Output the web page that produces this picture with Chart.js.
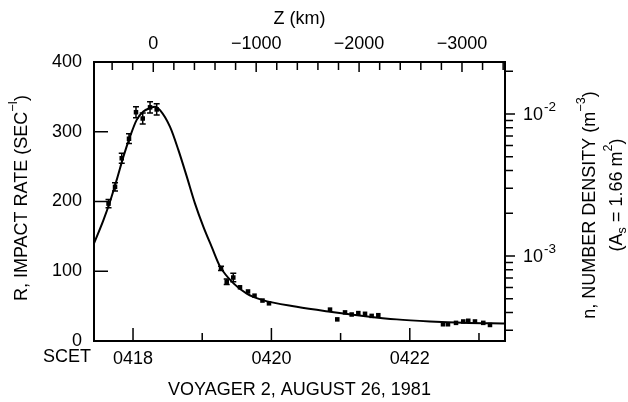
<!DOCTYPE html>
<html>
<head>
<meta charset="utf-8">
<script src="https://cdn.jsdelivr.net/npm/chart.js@4"></script>
<style>
body { margin: 0; background: #fff; }
</style>
</head>
<body>
<canvas id="chart" width="628" height="402"></canvas>
<script>
// measured impact rates, time in minutes after 04:00 SCET
const timeMin = [17.646, 17.740, 17.837, 17.942, 18.043, 18.140, 18.246, 18.342,
    19.272, 19.354, 19.449, 19.546, 19.662, 19.756, 19.871, 19.965,
    20.847, 20.952, 21.064, 21.160, 21.256, 21.353, 21.449, 21.545,
    22.480, 22.552, 22.668, 22.773, 22.845, 22.942, 23.062, 23.159];
const rate = [197, 221, 262, 290, 328, 319, 335, 332,
    104, 85, 91, 77, 71, 65, 58, 54,
    45, 31, 41, 38, 40, 39, 36, 37,
    24, 24, 26, 28, 29, 28, 26, 23];
const rateErr = [6, 6, 7, 7, 8, 8, 8, 8,
    3, 4, 6, 0, 0, 0, 0, 0,
    0, 0, 0, 0, 0, 0, 0, 0,
    0, 0, 0, 0, 0, 0, 0, 0];

// model curve
const fitTime = [17.436, 17.571, 17.668, 17.764, 17.860, 17.957, 18.053, 18.149, 18.246, 18.318,
    18.390, 18.535, 18.655, 18.776, 18.896, 19.016, 19.137, 19.257, 19.449, 19.643,
    19.864, 20.366, 20.847, 21.328, 21.811, 22.292, 22.773, 23.376];
const fitRate = [140, 173, 200, 231, 264, 293, 317, 329, 334, 336,
    331, 307, 274, 236, 197, 164, 135, 107, 83, 68,
    59, 49, 42, 36, 31, 28, 26, 25];

// axes
const timeTicks = [18, 19, 20, 21, 22, 23];
const timeLabels = ['0418', '', '0420', '', '0422', ''];
const rateTicks = [0, 100, 200, 300, 400];
const zTicks = [400, 200, 0, -200, -400, -600, -800, -1000, -1200, -1400, -1600, -1800,
    -2000, -2200, -2400, -2600, -2800, -3000, -3200, -3400];
const zLabelled = [0, -1000, -2000, -3000];
const densTicks = [3e-4, 4e-4, 5e-4, 6e-4, 7e-4, 8e-4, 9e-4, 1e-3,
    2e-3, 3e-3, 4e-3, 5e-3, 6e-3, 7e-3, 8e-3, 9e-3, 1e-2, 2e-2];
const densLabelled = [1e-3, 1e-2];
const densExp = ['-3', '-2'];

const FONT = '"Liberation Sans", Arial, sans-serif';
const SIZE = 18;
Chart.defaults.font.family = FONT;
Chart.defaults.font.size = SIZE;
Chart.defaults.color = '#000';

// text with superscript (1) / subscript (-1) pieces, centred on x
function richText(ctx, parts, x, y, size) {
    let w = 0;
    parts.forEach(p => {
        ctx.font = (p[1] ? size * 0.7 : size) + 'px ' + FONT;
        w += ctx.measureText(p[0]).width;
    });
    let cx = x - w / 2;
    parts.forEach(p => {
        ctx.font = (p[1] ? size * 0.7 : size) + 'px ' + FONT;
        const dy = p[1] === 1 ? -size * 0.45 : (p[1] === -1 ? size * 0.3 : 0);
        ctx.fillText(p[0], cx, y + dy);
        cx += ctx.measureText(p[0]).width;
    });
}

const decorations = {
    id: 'decorations',
    afterDatasetsDraw(chart) {
        const ctx = chart.ctx;
        const xs = chart.scales.x;
        const ys = chart.scales.y;
        ctx.save();
        ctx.strokeStyle = '#000';
        ctx.lineWidth = 1.5;
        ctx.beginPath();
        timeMin.forEach((t, i) => {
            if (!rateErr[i]) return;
            const px = xs.getPixelForValue(t);
            const y1 = ys.getPixelForValue(rate[i] - rateErr[i]);
            const y2 = ys.getPixelForValue(rate[i] + rateErr[i]);
            ctx.moveTo(px, y1); ctx.lineTo(px, y2);
            ctx.moveTo(px - 3, y1); ctx.lineTo(px + 3, y1);
            ctx.moveTo(px - 3, y2); ctx.lineTo(px + 3, y2);
        });
        ctx.stroke();
        ctx.restore();
    },
    afterDraw(chart) {
        const ctx = chart.ctx;
        const a = chart.chartArea;
        const {x, top, y, right} = chart.scales;
        ctx.save();
        ctx.strokeStyle = '#000';
        ctx.fillStyle = '#000';

        // frame
        ctx.lineWidth = 2;
        ctx.strokeRect(a.left, a.top, a.right - a.left, a.bottom - a.top);

        // tick marks, pointing inward except on the right axis
        ctx.lineWidth = 1.5;
        ctx.beginPath();
        x.ticks.forEach(t => {
            const px = x.getPixelForValue(t.value);
            ctx.moveTo(px, a.bottom);
            ctx.lineTo(px, a.bottom - (t.label ? 13 : 8));
        });
        top.ticks.forEach(t => {
            const px = top.getPixelForValue(t.value);
            ctx.moveTo(px, a.top);
            ctx.lineTo(px, a.top + (t.label ? 10 : 8));
        });
        y.ticks.forEach(t => {
            const py = y.getPixelForValue(t.value);
            ctx.moveTo(a.left, py);
            ctx.lineTo(a.left + 14, py);
        });
        right.ticks.forEach(t => {
            const py = right.getPixelForValue(t.value);
            const major = densLabelled.some(v => Math.abs(v - t.value) < t.value * 1e-6);
            ctx.moveTo(a.right, py);
            ctx.lineTo(a.right + (major ? 10 : 8), py);
        });
        ctx.stroke();

        // right axis labels 10^-n
        ctx.textBaseline = 'middle';
        ctx.textAlign = 'left';
        densLabelled.forEach((v, i) => {
            const py = right.getPixelForValue(v);
            ctx.font = SIZE + 'px ' + FONT;
            ctx.fillText('10', a.right + 18, py + 1);
            const w = ctx.measureText('10').width;
            ctx.font = (SIZE * 0.75) + 'px ' + FONT;
            ctx.fillText(densExp[i], a.right + 18 + w + 1, py - 7);
        });

        // titles
        ctx.font = SIZE + 'px ' + FONT;
        ctx.textAlign = 'center';
        ctx.fillText('Z (km)', (a.left + a.right) / 2, 19);
        ctx.fillText('VOYAGER 2, AUGUST 26, 1981', (a.left + a.right) / 2, 390);
        ctx.textAlign = 'left';
        ctx.fillText('SCET', 43, 357);

        ctx.save();
        ctx.translate(22, 198);
        ctx.rotate(-Math.PI / 2);
        richText(ctx, [['R, IMPACT RATE (SEC', 0], ['\u2212I', 1], [')', 0]], 0, 0, SIZE);
        ctx.restore();

        ctx.save();
        ctx.translate(590, 205);
        ctx.rotate(-Math.PI / 2);
        richText(ctx, [['n, NUMBER DENSITY (m', 0], ['\u22123', 1], [')', 0]], 0, 0, SIZE);
        ctx.restore();

        ctx.save();
        ctx.translate(617, 195);
        ctx.rotate(-Math.PI / 2);
        richText(ctx, [['(A', 0], ['s', -1], [' = 1.66 m', 0], ['2', 1], [')', 0]], 0, 0, SIZE);
        ctx.restore();

        ctx.restore();
    }
};

const noGrid = { display: false, drawTicks: false };

new Chart(document.getElementById('chart'), {
    type: 'scatter',
    data: {
        datasets: [{
            data: fitTime.map((t, i) => ({x: t, y: fitRate[i]})),
            showLine: true,
            borderColor: '#000',
            borderWidth: 2,
            pointRadius: 0,
            cubicInterpolationMode: 'monotone'
        }, {
            data: timeMin.map((t, i) => ({x: t, y: rate[i]})),
            pointStyle: 'rect',
            pointRadius: 3.2,
            backgroundColor: '#000',
            borderColor: '#000',
            borderWidth: 0
        }]
    },
    options: {
        responsive: false,
        animation: false,
        layout: { padding: 0 },
        plugins: { legend: { display: false }, tooltip: { enabled: false } },
        scales: {
            x: {
                type: 'linear', position: 'bottom', min: 17.436, max: 23.376,
                afterBuildTicks: s => { s.ticks = timeTicks.map(v => ({value: v})); },
                afterFit: s => { s.height = 61; },
                ticks: { padding: 7, maxRotation: 0, autoSkip: false, callback: (v, i) => timeLabels[i] },
                grid: noGrid, border: { display: false }
            },
            top: {
                type: 'linear', position: 'top', reverse: true, min: -3418, max: 576,
                afterBuildTicks: s => { s.ticks = zTicks.map(v => ({value: v})); },
                afterFit: s => { s.height = 62; },
                ticks: {
                    padding: 7, maxRotation: 0, autoSkip: false,
                    callback: v => zLabelled.includes(v) ? String(v).replace('-', '\u2212') : ''
                },
                grid: noGrid, border: { display: false }
            },
            y: {
                type: 'linear', position: 'left', min: 0, max: 400,
                afterBuildTicks: s => { s.ticks = rateTicks.map(v => ({value: v})); },
                afterFit: s => { s.width = 94; },
                ticks: { padding: 12 },
                grid: noGrid, border: { display: false }
            },
            right: {
                type: 'logarithmic', position: 'right', min: 2.52e-4, max: 0.0232,
                afterBuildTicks: s => { s.ticks = densTicks.map(v => ({value: v})); },
                afterFit: s => { s.width = 123; },
                ticks: { display: false },
                grid: noGrid, border: { display: false }
            }
        }
    },
    plugins: [decorations]
});
</script>
</body>
</html>
